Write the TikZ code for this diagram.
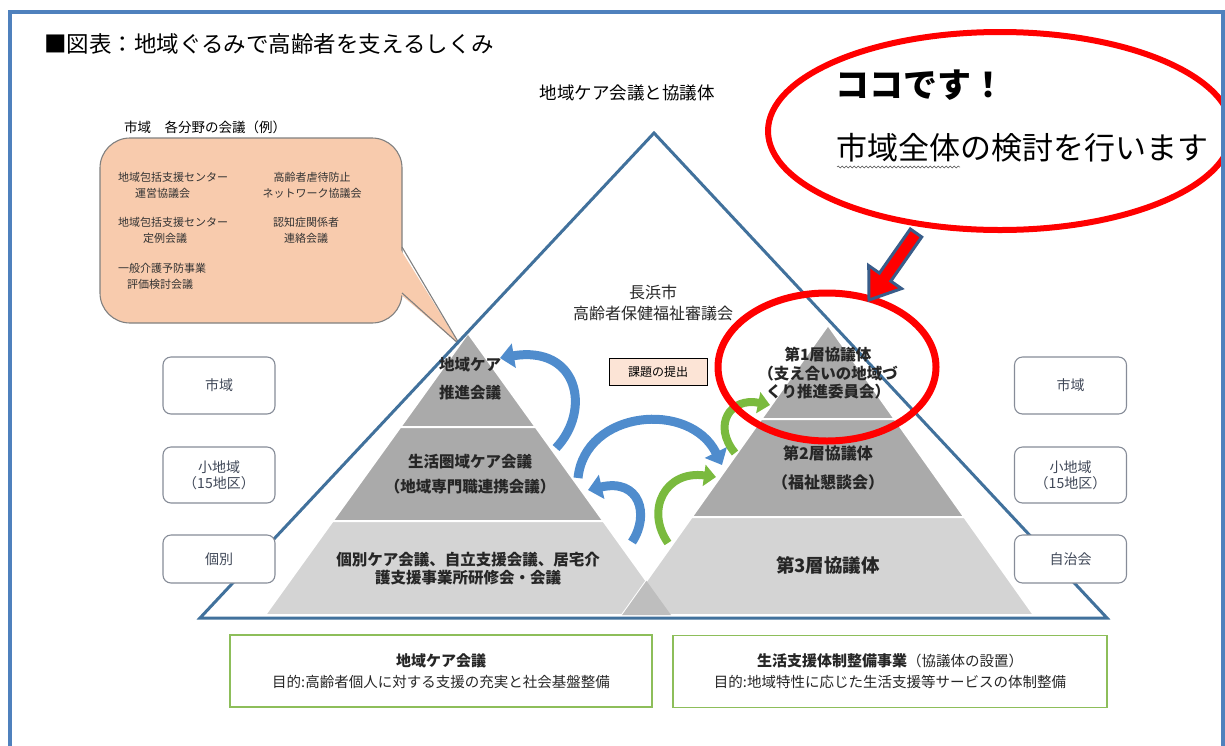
\documentclass[tikz,border=0pt]{standalone}
\usepackage{fontspec}
\setmainfont{Noto Sans CJK JP}
\usetikzlibrary{arrows.meta, decorations.pathmorphing, calc}
\definecolor{frameblue}{RGB}{79,129,189}
\definecolor{lineblue}{RGB}{65,113,156}
\definecolor{tierdark}{RGB}{170,170,170}
\definecolor{tierlight}{RGB}{212,212,212}
\definecolor{tieroverlap}{RGB}{190,190,190}
\definecolor{peach}{RGB}{248,203,173}
\definecolor{softpeach}{RGB}{252,228,214}
\definecolor{arcblue}{RGB}{79,140,205}
\definecolor{arcgreen}{RGB}{122,186,62}
\definecolor{boxgray}{RGB}{134,140,152}
\definecolor{boxtext}{RGB}{64,72,88}
\definecolor{boxgreen}{RGB}{141,190,90}
\definecolor{alertred}{RGB}{255,0,0}
\definecolor{arrowedge}{RGB}{56,93,138}
\newcommand{\fsz}[2]{\fontsize{#1}{#2}\selectfont}

\begin{document}
\begin{tikzpicture}[
	x=1pt, y=-1pt,
	every node/.style={inner sep=0pt},
	% Styles for the pyramids and the boxes
	darktier/.style={fill=tierdark, draw=white, line width=2pt, line join=round},
	lighttier/.style={fill=tierlight, draw=white, line width=2pt, line join=round},
	tiertext/.style={align=center, text=black!85, font=\fsz{15.5}{18}\bfseries},
	calltext/.style={text=black!80, font=\fsz{11}{16}},
	sidebox/.style={draw=boxgray, fill=white, line width=1.1pt, rounded corners=8pt, minimum width=112pt, align=center, text=boxtext, font=\fsz{14}{16}},
	goalbox/.style={draw=boxgreen, line width=1.2pt, minimum height=72pt, align=center, text=black!85, font=\fsz{14.5}{17}},
	bluearc/.style={draw=arcblue, line width=9pt, -{Triangle[width=24pt, length=14pt]}},
	greenarc/.style={draw=arcgreen, line width=8pt, -{Triangle[width=21pt, length=12pt]}}
	]
	\useasboundingbox (0,0) rectangle (1225,745);
	
	% ==========================================
	% 1. TITLES
	% ==========================================
	\node[anchor=west, font=\fsz{22.5}{26}] (title) at (44,44) {■図表：地域ぐるみで高齢者を支えるしくみ};
	\node[font=\fsz{17.5}{20}] (topic) at (627,93) {地域ケア会議と協議体};
	
	% ==========================================
	% 2. CALLOUT WITH CITY-WIDE MEETINGS
	% ==========================================
	\node[anchor=west, font=\fsz{13.5}{16}] (fieldlabel) at (124,127) {市域　各分野の会議（例）};
	\draw[fill=peach, draw=black!50, line width=1.1pt, rounded corners=30pt] (100,138) rectangle (402,323);
	\fill[peach] (399,247) -- (460,345) -- (399,293) -- cycle;
	\draw[black!50, line width=1.1pt] (402,247) -- (460,345) -- (402,293);
	
	\node[calltext, anchor=west, align=left] (cw1) at (118,185) {地域包括支援センター\\\hspace*{17pt}運営協議会};
	\node[calltext, anchor=west, align=left] (cw2) at (118,230) {地域包括支援センター\\\hspace*{25pt}定例会議};
	\node[calltext, anchor=west, align=left] (cw3) at (118,276) {一般介護予防事業\\\hspace*{9pt}評価検討会議};
	\node[calltext, align=center] (ce1) at (312,185) {高齢者虐待防止\\ネットワーク協議会};
	\node[calltext, align=center] (ce2) at (306,230) {認知症関係者\\連絡会議};
	
	% ==========================================
	% 3. THE TWO PYRAMIDS
	% ==========================================
	% Left pyramid: apex (468,333), levels 427 / 521 / 615
	\draw[darktier] (468,333) -- (535.7,427) -- (400.3,427) -- cycle;
	\draw[darktier] (400.3,427) -- (535.7,427) -- (603.4,521) -- (332.6,521) -- cycle;
	\draw[lighttier] (332.6,521) -- (603.4,521) -- (671,615) -- (265,615) -- cycle;
	
	% Right pyramid: apex (828,325), levels 419 / 517 / 615
	\draw[darktier] (828,325) -- (894.7,419) -- (761.3,419) -- cycle;
	\draw[darktier] (761.3,419) -- (894.7,419) -- (964.3,517) -- (691.7,517) -- cycle;
	\draw[lighttier] (691.7,517) -- (964.3,517) -- (1033.9,615) -- (622.1,615) -- cycle;
	
	% Where the two bases overlap
	\fill[tieroverlap] (646.4,580.8) -- (671,615) -- (622.1,615) -- cycle;
	
	% Large outline triangle
	\draw[lineblue, line width=3pt, line join=miter] (654,133) -- (1107,618) -- (200,618) -- cycle;
	
	% Texts of the tiers
	\node[tiertext, font=\fsz{15.5}{28}\bfseries] (lcare) at (470,379) {地域ケア\\推進会議};
	\node[tiertext, font=\fsz{15.5}{25}\bfseries] (lzone) at (470,474.5) {生活圏域ケア会議\\（地域専門職連携会議）};
	\node[tiertext] (lindiv) at (468,569) {個別ケア会議、自立支援会議、居宅介\\護支援事業所研修会・会議};
	
	\node[tiertext, font=\fsz{15.5}{18.5}\bfseries] (rfirst) at (828,373.5) {第1層協議体\\（支え合いの地域づ\\くり推進委員会）};
	\node[tiertext, font=\fsz{16}{29}\bfseries] (rsecond) at (828,467.5) {第2層協議体\\（福祉懇談会）};
	\node[tiertext, font=\fsz{18.5}{22}\bfseries] (rthird) at (828,565) {第3層協議体};
	
	\node[align=center, text=black!85, font=\fsz{16}{21}] (council) at (653,302.5) {長浜市\\高齢者保健福祉審議会};
	\node[draw=black, line width=0.8pt, fill=softpeach, minimum width=98pt, minimum height=27pt, font=\fsz{12}{14}] (issue) at (658,371.5) {課題の提出};
	
	% ==========================================
	% 4. CURVED ARROWS BETWEEN THE TIERS
	% ==========================================
	\coordinate (a1s) at (556,448);
	\coordinate (a1e) at (500,358);
	\coordinate (a2s) at (578,478);
	\coordinate (a2e) at (722,465);
	\coordinate (a3s) at (632,542);
	\coordinate (a3e) at (588,490);
	\coordinate (a4s) at (668,543);
	\coordinate (a4e) at (716,477);
	\coordinate (a5s) at (735,453);
	\coordinate (a5e) at (770,405);
	\draw[bluearc] (a1s) .. controls (592,410) and (578,345) .. (a1e);
	\draw[bluearc] (a2s) .. controls (585,410) and (690,400) .. (a2e);
	\draw[bluearc] (a3s) .. controls (650,515) and (640,478) .. (a3e);
	\draw[greenarc] (a4s) .. controls (645,510) and (665,470) .. (a4e);
	\draw[greenarc] (a5s) .. controls (712,425) and (730,397) .. (a5e);
	
	% ==========================================
	% 5. AREA LABELS ON BOTH SIDES
	% ==========================================
	\node[sidebox, minimum height=57pt] (lcity) at (219,385.5) {市域};
	\node[sidebox, minimum height=56pt] (larea) at (219,475) {小地域\\（15地区）};
	\node[sidebox, minimum height=48pt] (lone) at (219,559) {個別};
	\node[sidebox, minimum height=57pt] (rcity) at (1070.5,385.5) {市域};
	\node[sidebox, minimum height=56pt] (rarea) at (1070.5,475) {小地域\\（15地区）};
	\node[sidebox, minimum height=48pt] (rself) at (1070.5,559) {自治会};
	
	% ==========================================
	% 6. PURPOSE BOXES
	% ==========================================
	\node[goalbox, minimum width=422pt] (carebox) at (441,671) {{\bfseries\fsz{15}{17}地域ケア会議}\\[4pt]目的:高齢者個人に対する支援の充実と社会基盤整備};
	\node[goalbox, minimum width=434pt] (supportbox) at (890,671.5) {{\bfseries\fsz{15}{17}生活支援体制整備事業}（協議体の設置）\\[4pt]目的:地域特性に応じた生活支援等サービスの体制整備};
	
	% ==========================================
	% 7. HIGHLIGHT
	% ==========================================
	\draw[alertred, line width=6pt, fill=white] (1000,131) ellipse [x radius=232pt, y radius=99pt];
	\node[anchor=west, font=\fsz{34}{40}\bfseries] (here) at (835,85) {ココです！};
	\node[anchor=west, font=\fsz{31}{36}] (scope) at (836,148) {市域全体の検討を行います};
	\draw[decorate, decoration={snake, amplitude=1pt, segment length=4pt}, line width=0.5pt, black!70] (837,167) -- (960,167);
	
	\draw[alertred, line width=7pt] (827,367) ellipse [x radius=109pt, y radius=74pt];
	\filldraw[draw=arrowedge, fill=alertred, line width=3pt, line join=miter]
		(910.3,229) -- (879.4,273.1) -- (868.7,265.6) -- (869,300) -- (901.5,288.6) -- (890.8,281.1) -- (921.7,237) -- cycle;
	
	% Frame
	\draw[frameblue, line width=4pt] (10,760) -- (10,12) -- (1223,12) -- (1223,760);
\end{tikzpicture}
\end{document}
